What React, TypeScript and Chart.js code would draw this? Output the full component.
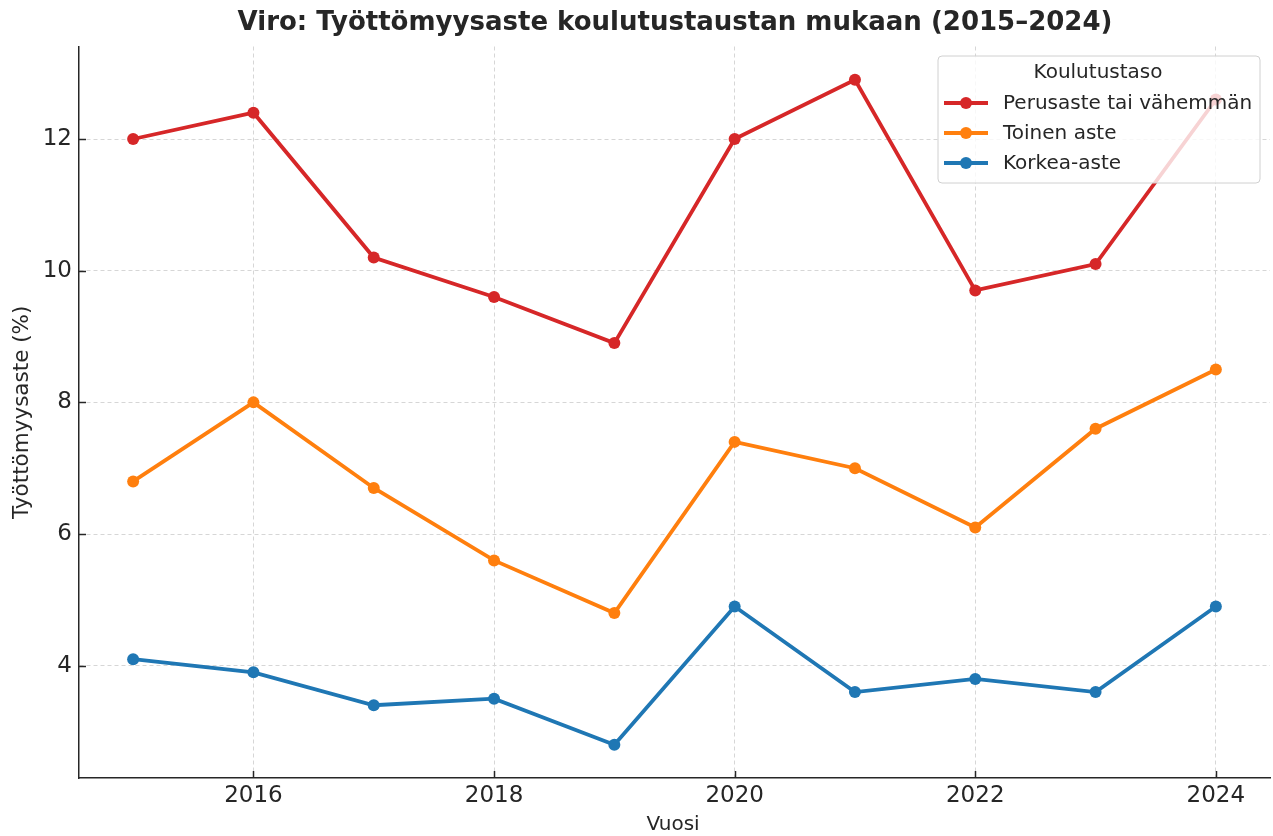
import React, { useEffect, useRef } from "react";
import { Chart, registerables } from "chart.js";

Chart.register(...registerables);

const years = [2015, 2016, 2017, 2018, 2019, 2020, 2021, 2022, 2023, 2024];
const perusaste = [12.0, 12.4, 10.2, 9.6, 8.9, 12.0, 12.9, 9.7, 10.1, 12.6];
const toinenAste = [6.8, 8.0, 6.7, 5.6, 4.8, 7.4, 7.0, 6.1, 7.6, 8.5];
const korkeaAste = [4.1, 3.9, 3.4, 3.5, 2.8, 4.9, 3.6, 3.8, 3.6, 4.9];
const seriesNames = ["Perusaste tai vähemmän", "Toinen aste", "Korkea-aste"];
const seriesColors = ["#d62728", "#ff7f0e", "#1f77b4"];
const xTicks = [2016, 2018, 2020, 2022, 2024];
const yTicks = [4, 6, 8, 10, 12];
const titleText = "Viro: Työttömyysaste koulutustaustan mukaan (2015–2024)";
const xLabel = "Vuosi";
const yLabel = "Työttömyysaste (%)";
const legendTitle = "Koulutustaso";

const FONT = "'DejaVu Sans', sans-serif";
const TEXT = "#262626";

export default function App() {
  const ref = useRef<HTMLCanvasElement | null>(null);
  useEffect(() => {
    document.body.style.margin = "0";
    const canvas = ref.current!;
    const allSeries = [perusaste, toinenAste, korkeaAste];
    const datasets = allSeries.map((s, i) => ({
      label: seriesNames[i],
      data: s.map((v, j) => ({ x: years[j], y: v })),
      borderColor: seriesColors[i],
      backgroundColor: seriesColors[i],
      borderWidth: 3.8,
      pointRadius: 6,
      pointHoverRadius: 6,
      pointBorderWidth: 0,
      tension: 0,
    }));

    const decor = {
      id: "decor",
      afterDraw(chart: any) {
        const ctx = chart.ctx;
        const a = chart.chartArea;
        const xs = chart.scales.x;
        const ys = chart.scales.y;
        ctx.save();
        // inward tick marks
        ctx.strokeStyle = "#262626";
        ctx.lineWidth = 1.5;
        xTicks.forEach((v) => {
          const px = Math.round(xs.getPixelForValue(v)) + 0.5;
          ctx.beginPath();
          ctx.moveTo(px, a.bottom);
          ctx.lineTo(px, a.bottom - 7);
          ctx.stroke();
        });
        yTicks.forEach((v) => {
          const py = Math.round(ys.getPixelForValue(v)) + 0.5;
          ctx.beginPath();
          ctx.moveTo(a.left, py);
          ctx.lineTo(a.left + 7, py);
          ctx.stroke();
        });

        ctx.fillStyle = TEXT;
        ctx.textAlign = "center";
        ctx.textBaseline = "middle";
        ctx.font = `bold 26px ${FONT}`;
        ctx.fillText(titleText, 675, 23);
        ctx.font = `20px ${FONT}`;
        ctx.fillText(xLabel, 673, 825);
        ctx.save();
        ctx.translate(22, (a.top + a.bottom) / 2);
        ctx.rotate(-Math.PI / 2);
        ctx.font = `21.5px ${FONT}`;
        ctx.fillText(yLabel, 0, 0);
        ctx.restore();

        // legend
        const bx = 938, by = 56, bw = 322, bh = 127;
        ctx.beginPath();
        ctx.roundRect(bx, by, bw, bh, 4);
        ctx.fillStyle = "rgba(255,255,255,0.8)";
        ctx.fill();
        ctx.strokeStyle = "#d0d0d0";
        ctx.lineWidth = 1;
        ctx.stroke();
        ctx.fillStyle = TEXT;
        ctx.font = `20px ${FONT}`;
        ctx.textAlign = "center";
        ctx.fillText(legendTitle, bx + bw / 2 - 1, 73);
        ctx.textAlign = "left";
        const rows = [103, 133, 163];
        seriesNames.forEach((n, i) => {
          const y = rows[i];
          ctx.strokeStyle = seriesColors[i];
          ctx.lineWidth = 3.8;
          ctx.beginPath();
          ctx.moveTo(944, y);
          ctx.lineTo(988, y);
          ctx.stroke();
          ctx.fillStyle = seriesColors[i];
          ctx.beginPath();
          ctx.arc(966, y, 6, 0, Math.PI * 2);
          ctx.fill();
          ctx.fillStyle = TEXT;
          ctx.fillText(n, 1003, y + 1);
        });
        ctx.restore();
      },
    };

    const chart = new Chart(canvas, {
      type: "line",
      data: { datasets },
      plugins: [decor],
      options: {
        animation: false,
        responsive: false,
        maintainAspectRatio: false,
        layout: { padding: { top: 46.5, right: 0, left: 0, bottom: 0 } },
        plugins: { legend: { display: false }, title: { display: false }, tooltip: { enabled: false } },
        scales: {
          x: {
            type: "linear",
            min: 2014.55,
            max: 2024.45,
            afterFit: (s: any) => { s.height = 58; },
            afterBuildTicks: (s: any) => { s.ticks = xTicks.map((v) => ({ value: v })); },
            ticks: {
              color: TEXT,
              font: { family: FONT, size: 23 },
              padding: 4,
              maxRotation: 0,
              callback: (v: any) => String(v),
            },
            grid: { color: "#d6d6d6", lineWidth: 1, drawTicks: false },
            border: { color: "#262626", width: 1.5, dash: [4, 3] },
          },
          y: {
            type: "linear",
            min: 2.295,
            max: 13.405,
            afterFit: (s: any) => { s.width = 79; },
            afterBuildTicks: (s: any) => { s.ticks = yTicks.map((v) => ({ value: v })); },
            ticks: {
              color: TEXT,
              font: { family: FONT, size: 23 },
              padding: 7,
              callback: (v: any) => String(v),
            },
            grid: { color: "#d6d6d6", lineWidth: 1, drawTicks: false },
            border: { color: "#262626", width: 1.5, dash: [4, 3] },
          },
        },
      },
    });
    return () => chart.destroy();
  }, []);
  return (
    <div style={{ width: 1273, height: 836, background: "#fff", overflow: "hidden" }}>
      <canvas ref={ref} width={1276} height={836} style={{ display: "block" }} />
    </div>
  );
}
